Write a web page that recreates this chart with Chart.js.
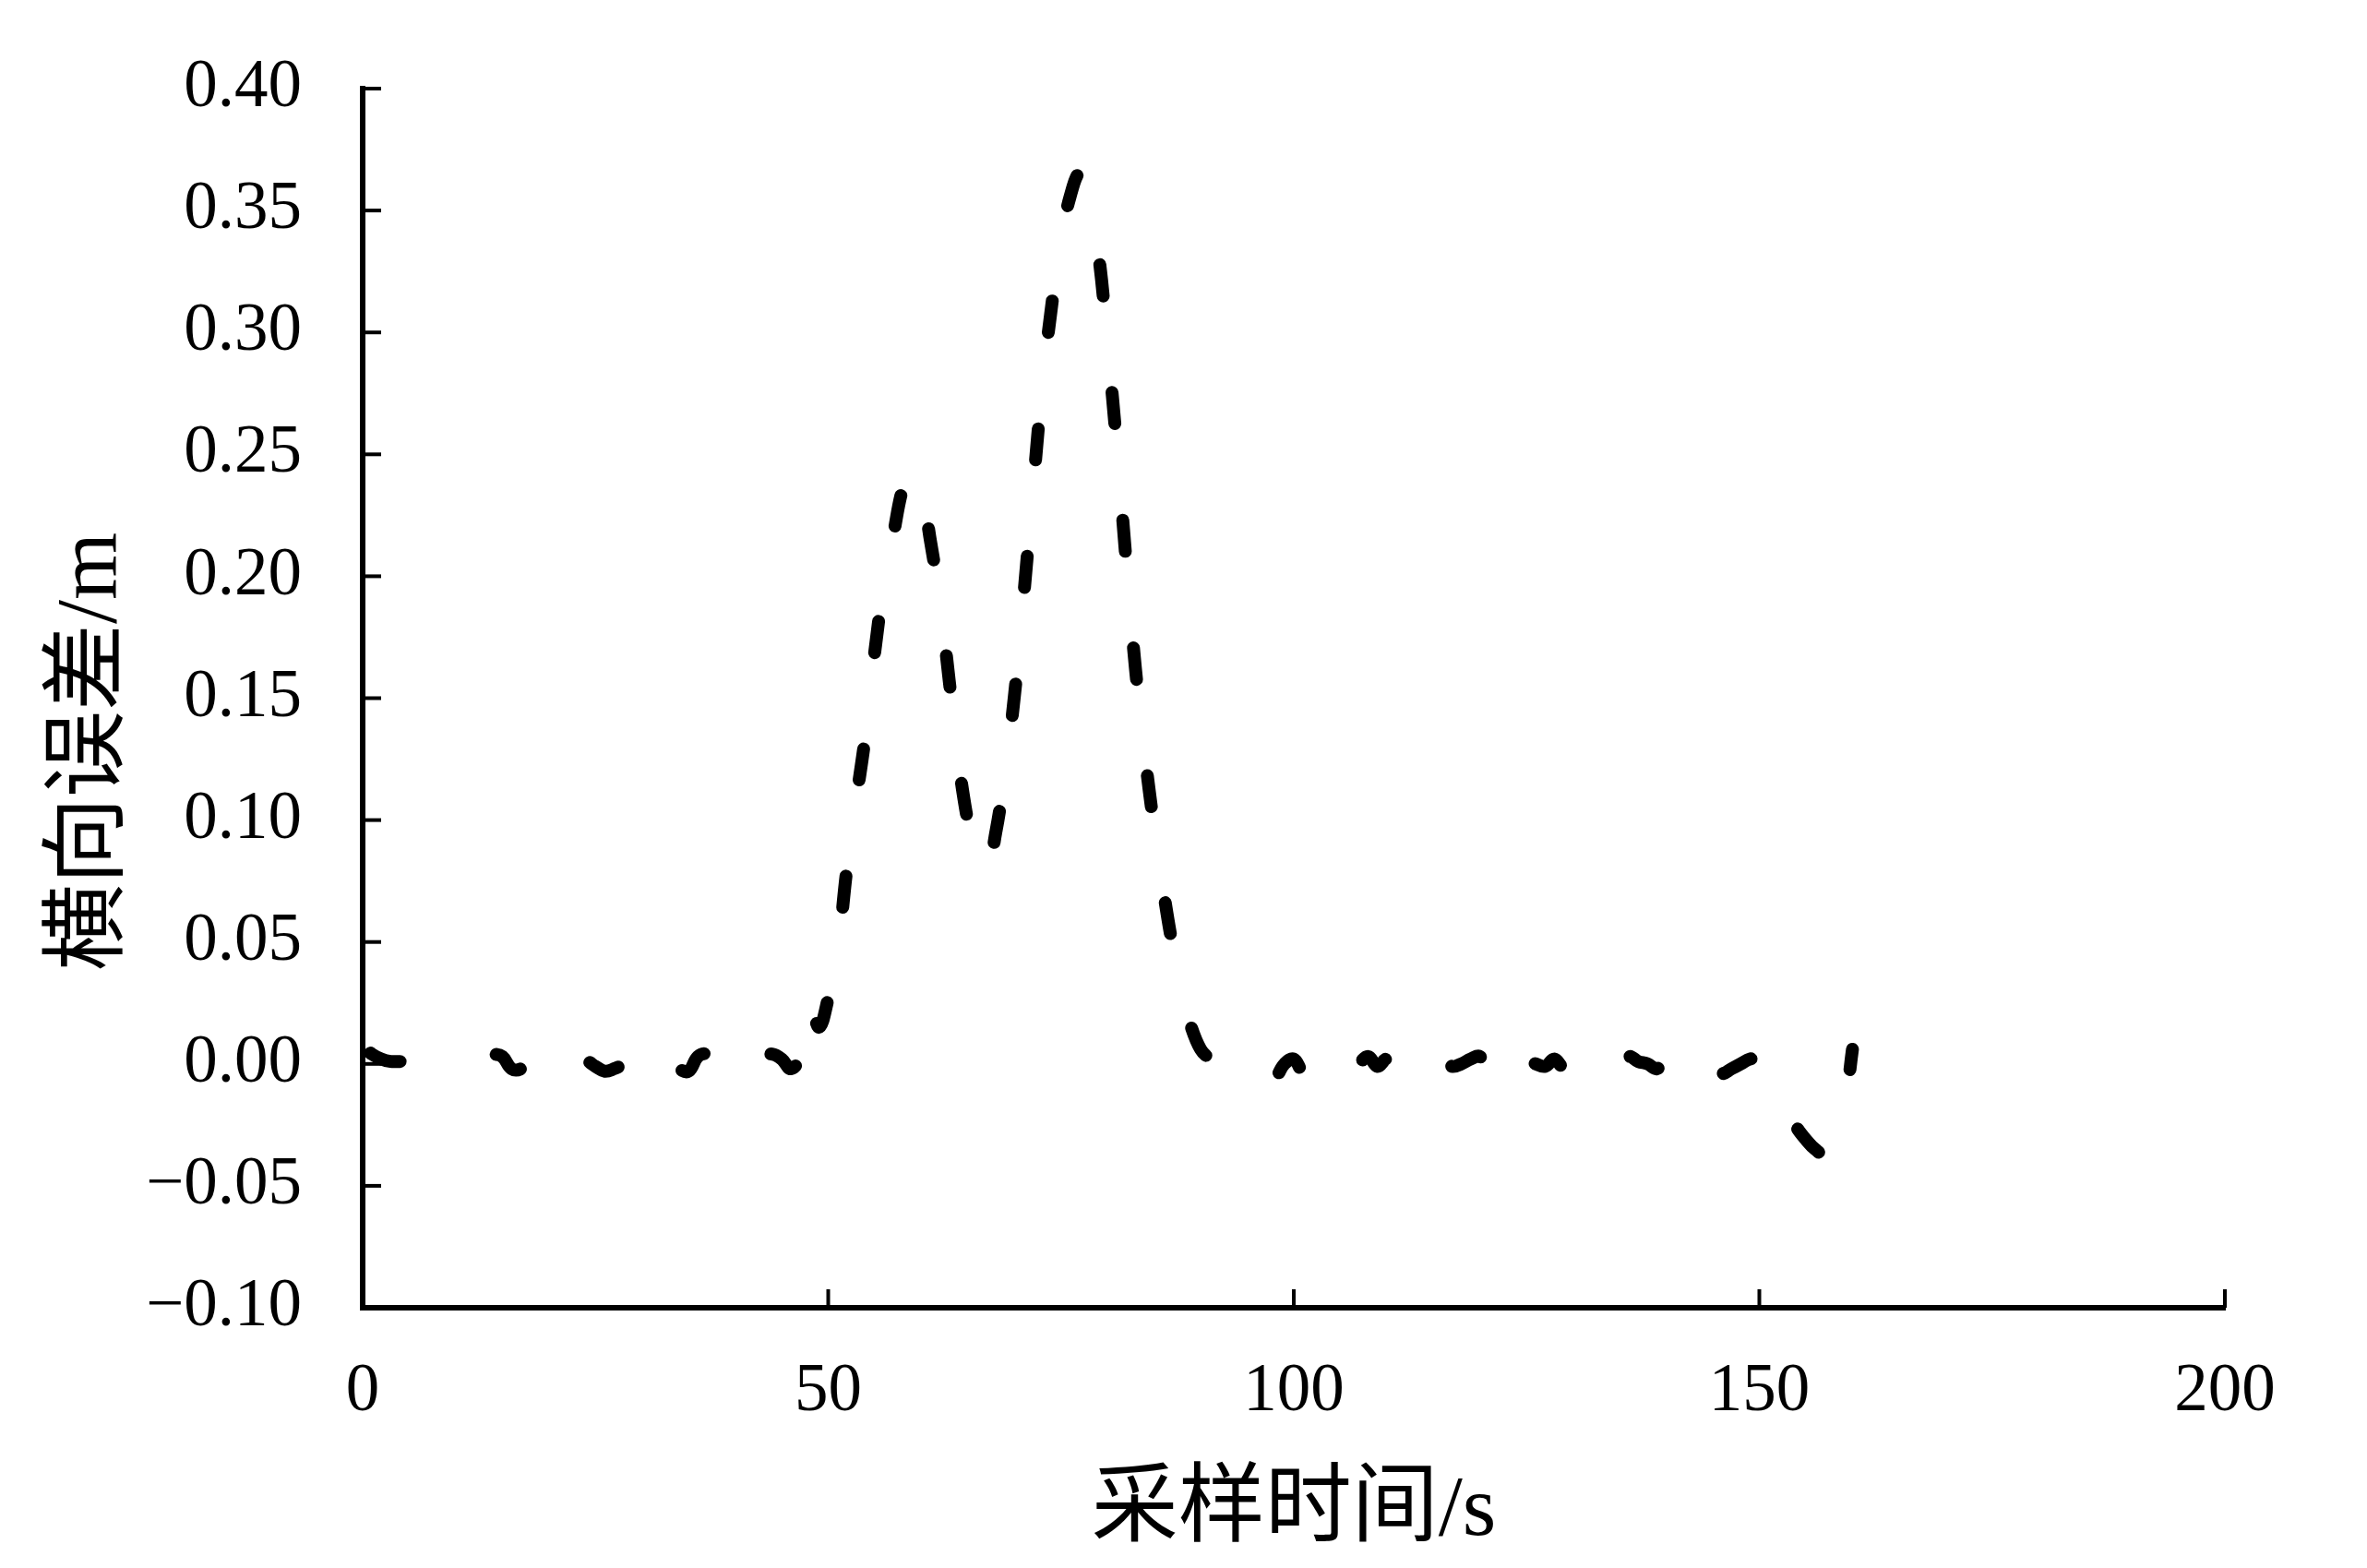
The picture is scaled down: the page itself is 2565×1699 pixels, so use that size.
<!DOCTYPE html>
<html>
<head>
<meta charset="utf-8">
<title>横向误差</title>
<script src="https://cdn.jsdelivr.net/npm/chart.js"></script>
<style>
  html, body { margin: 0; padding: 0; background: #fff; }
  #wrap { width: 2565px; height: 1699px; }
</style>
</head>
<body>
<div id="wrap"><canvas id="err-chart"></canvas></div>
<script>
// sampling time (s)
var times = [
  0, 1, 2, 3, 4, 5, 6, 7, 8, 9, 10, 11, 12, 13, 14, 15, 16, 17, 18, 19,
  20, 21, 22, 23, 24, 25, 26, 27, 28, 29, 30, 31, 32, 33, 34, 35, 36, 37, 38, 39,
  40, 41, 42, 43, 44, 45, 46, 47, 48, 49, 50, 51, 52, 53, 54, 55, 56, 57, 58, 59,
  60, 61, 62, 63, 64, 65, 66, 67, 68, 69, 70, 71, 72, 73, 74, 75, 76, 77, 78, 79,
  80, 81, 82, 83, 84, 85, 86, 87, 88, 89, 90, 91, 92, 93, 94, 95, 96, 97, 98, 99,
  100, 101, 102, 103, 104, 105, 106, 107, 108, 109, 110, 111, 112, 113, 114, 115, 116, 117, 118, 119,
  120, 121, 122, 123, 124, 125, 126, 127, 128, 129, 130, 131, 132, 133, 134, 135, 136, 137, 138, 139,
  140, 141, 142, 143, 144, 145, 146, 147, 148, 149, 150, 151, 152, 153, 154, 155, 156, 157, 158, 159,
  160
]

// lateral error (m)
var lateralError = [
  0.007, 0.004, 0.002, 0.001, 0.001, 0.001, 0.001, 0.001, 0.001, 0.001,
  0.002, 0.002, 0.003, 0.004, 0.004, 0.003, -0.002, -0.002, 0.002, -0.002,
  0.002, -0.002, 0.002, -0.001, 0.001, -0.001, -0.003, -0.002, 0.000, 0.003,
  -0.002, 0.003, -0.002, 0.002, -0.002, -0.003, 0.003, 0.004, 0.000, 0.004,
  -0.001, 0.003, -0.001, 0.003, 0.004, 0.002, -0.002, 0.003, 0.027, 0.015,
  0.027, 0.046, 0.080, 0.108, 0.135, 0.169, 0.197, 0.217, 0.236, 0.245,
  0.236, 0.214, 0.190, 0.157, 0.124, 0.099, 0.080, 0.079, 0.095, 0.120,
  0.151, 0.192, 0.236, 0.278, 0.311, 0.338, 0.356, 0.365, 0.353, 0.333,
  0.295, 0.253, 0.206, 0.162, 0.127, 0.097, 0.071, 0.048, 0.029, 0.015,
  0.006, 0.002, -0.001, 0.002, -0.001, 0.002, -0.001, 0.000, -0.005, 0.000,
  0.002, -0.003, 0.002, -0.003, 0.002, -0.002, -0.004, 0.000, 0.003, -0.001,
  0.002, -0.002, 0.002, -0.002, 0.002, -0.002, 0.002, -0.001, 0.000, 0.002,
  0.003, -0.0035, 0.0035, -0.0035, 0.003, 0.002, 0.000, -0.001, 0.002, -0.0015,
  0.0025, -0.0015, 0.0025, -0.0015, 0.001, -0.001, 0.003, 0.001, 0.000, -0.002,
  0.0015, -0.003, 0.0015, -0.003, 0.0015, -0.003, -0.004, -0.002, 0.000, 0.002,
  0.002, 0.003, -0.008, -0.019, -0.026, -0.031, -0.035, -0.037, -0.032, -0.022,
  0.006
]

// axis ranges / tick steps
var xTicks = [0, 200, 50]
var yTicks = [-0.10, 0.40, 0.05]

var xTitle = '采样时间/s'
var yTitle = '横向误差/m'

var serif = "'Liberation Serif', 'Times New Roman', 'Noto Sans CJK SC', serif"

var points = times.map(function (t, i) { return { x: t, y: lateralError[i] } })

// short tick marks pointing into the plot, plus the rotated y title
var innerTicks = {
  id: 'innerTicks',
  beforeDatasetsDraw: function (chart) {
    var ctx = chart.ctx
    var area = chart.chartArea
    var xs = chart.scales.x
    var ys = chart.scales.y
    ctx.save()
    ctx.strokeStyle = '#000'
    ctx.lineWidth = 4
    ys.ticks.forEach(function (t) {
      var py = ys.getPixelForValue(t.value)
      ctx.beginPath()
      ctx.moveTo(area.left, py)
      ctx.lineTo(area.left + 20, py)
      ctx.stroke()
    })
    xs.ticks.forEach(function (t) {
      var px = xs.getPixelForValue(t.value)
      ctx.beginPath()
      ctx.moveTo(px, area.bottom)
      ctx.lineTo(px, area.bottom - 20)
      ctx.stroke()
    })
    ctx.restore()
  },
  afterDraw: function (chart) {
    var ctx = chart.ctx
    var area = chart.chartArea
    ctx.save()
    ctx.translate(100, (area.top + area.bottom) / 2 + 58)
    ctx.rotate(-Math.PI / 2)
    ctx.fillStyle = '#000'
    ctx.font = '94px ' + serif
    ctx.textAlign = 'center'
    ctx.textBaseline = 'middle'
    ctx.fillText(yTitle, 0, 0)
    ctx.restore()
  }
}

var ctx = document.getElementById('err-chart')
new Chart(ctx, {
  type: 'line',
  data: {
    datasets: [
      {
        data: points,
        borderColor: '#000',
        borderWidth: 14,
        borderDash: [34, 105],
        borderDashOffset: 128,
        borderCapStyle: 'round',
        borderJoinStyle: 'round',
        pointRadius: 0,
        fill: false,
        tension: 0.4,
      },
    ],
  },
  options: {
    responsive: true,
    maintainAspectRatio: false,
    devicePixelRatio: 1,
    animation: false,
    layout: {
      padding: { left: 0, top: 96, right: 154, bottom: 0 },
    },
    plugins: {
      legend: { display: false },
      tooltip: { enabled: false },
    },
    scales: {
      x: {
        type: 'linear',
        min: xTicks[0],
        max: xTicks[1],
        afterFit: function (s) { s.height = 282 },
        ticks: {
          stepSize: xTicks[2],
          padding: 48,
          color: '#000',
          font: { family: serif, size: 73 },
          maxRotation: 0,
        },
        grid: { drawOnChartArea: false, drawTicks: false },
        border: { display: true, color: '#000', width: 6 },
        title: {
          display: true,
          text: xTitle,
          color: '#000',
          font: { family: serif, size: 94 },
          padding: { top: 0, bottom: 4 },
        },
      },
      y: {
        type: 'linear',
        min: yTicks[0],
        max: yTicks[1],
        afterFit: function (s) {
          s.width = 393
          s.paddingTop = 0
          s.paddingBottom = 0
        },
        ticks: {
          stepSize: yTicks[2],
          padding: 66,
          color: '#000',
          font: { family: serif, size: 73 },
          callback: function (v) {
            if (Math.abs(v) < 1e-9) return '0.00'
            return (v < 0 ? '\u2212' : '') + Math.abs(v).toFixed(2)
          },
        },
        grid: { drawOnChartArea: false, drawTicks: false },
        border: { display: true, color: '#000', width: 6 },
      },
    },
  },
  plugins: [innerTicks],
})
</script>
</body>
</html>
